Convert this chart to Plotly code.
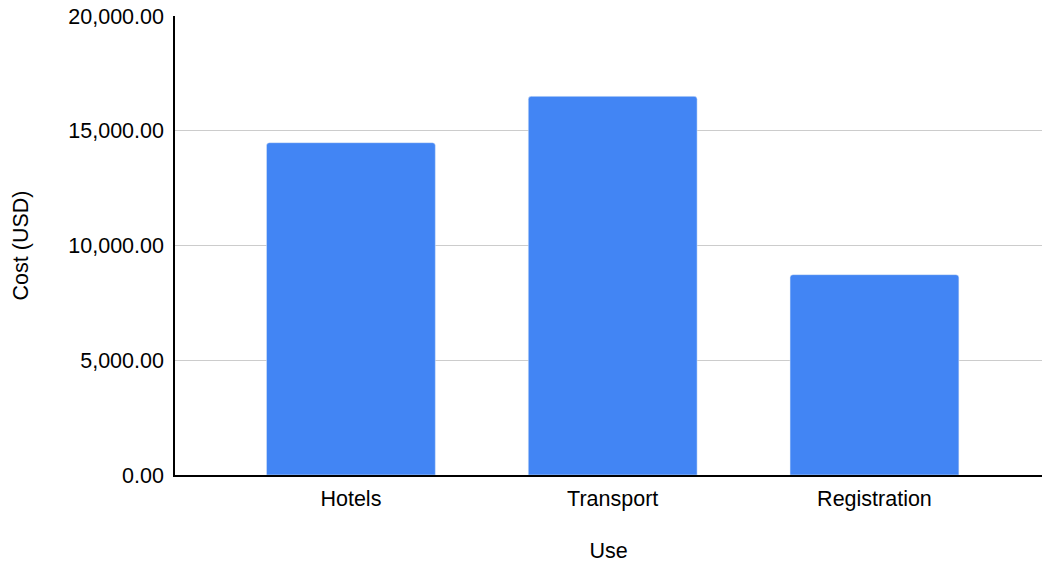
import plotly.graph_objects as go

categories = ["Hotels", "Transport", "Registration"]
costs = [14480, 16500, 8730]
y_ticks = [0, 5000, 10000, 15000, 20000]
y_tick_labels = ["0.00", "5,000.00", "10,000.00", "15,000.00", "20,000.00"]

fig = go.Figure(go.Bar(x=categories, y=costs, marker_color="#4285F4",
                       marker_cornerradius=3, hoverinfo="x+y"))

font = "Liberation Sans, Arial, sans-serif"
fig.update_layout(
    width=1042, height=563,
    margin=dict(l=175, r=0, t=16, b=88),
    paper_bgcolor="white", plot_bgcolor="white",
    bargap=0.355,
    font=dict(family=font, size=21.5, color="#000000"),
    showlegend=False,
)
fig.update_xaxes(
    range=[-0.672, 2.64], automargin=False,
    showline=True, linecolor="#000000", linewidth=1.5,
    showgrid=False, ticks="", tickfont=dict(size=21.5),
    ticklabelstandoff=3,
    title=dict(text="Use", font=dict(size=21.5), standoff=33),
)
fig.update_yaxes(
    range=[0, 20000], tickvals=y_ticks, ticktext=y_tick_labels, automargin=False,
    showline=True, linecolor="#000000", linewidth=1.5,
    showgrid=True, gridcolor="#cccccc", gridwidth=1.2,
    zeroline=False, ticks="", tickfont=dict(size=21.5),
    ticklabelstandoff=5,
    title=dict(text="Cost (USD)", font=dict(size=21.5), standoff=34),
)
fig.write_html(
    "out.html",
    config={"displayModeBar": False},
    post_script="document.body.style.margin='0';document.body.style.overflow='hidden';",
)
